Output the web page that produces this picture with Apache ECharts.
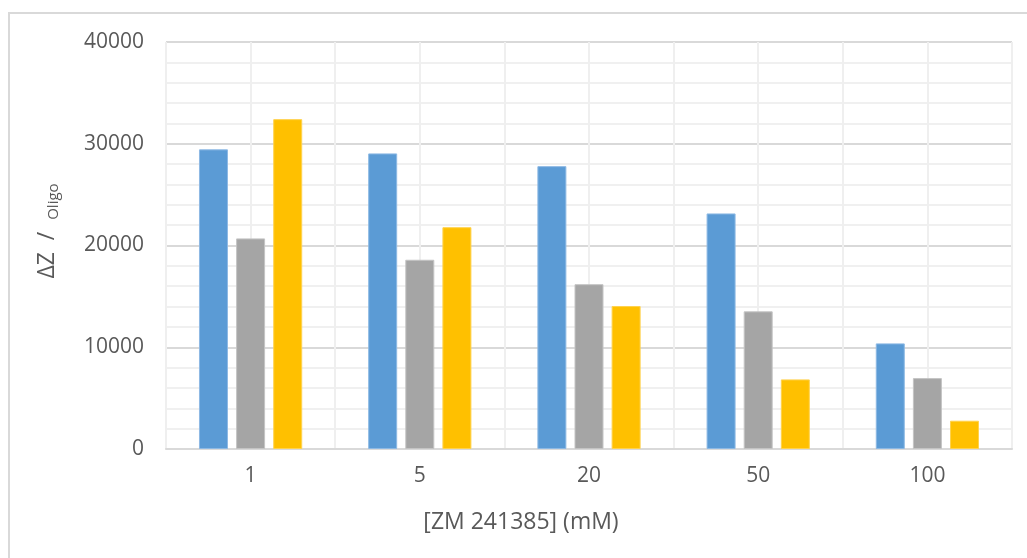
<!DOCTYPE html>
<html>
<head>
<meta charset="utf-8">
<script src="https://cdn.jsdelivr.net/npm/echarts@6/dist/echarts.min.js"></script>
<style>
html,body{margin:0;padding:0;background:#fff;}
#chart{width:1027px;height:558px;}
</style>
</head>
<body>
<div id="chart"></div>
<script>
const categories = ['1', '5', '20', '50', '100'];
const seriesBlue = [29450, 29050, 27800, 23150, 10380];
const seriesGray = [20700, 18600, 16200, 13530, 6970];
const seriesYellow = [32420, 21800, 14050, 6840, 2780];
const yTicks = [0, 10000, 20000, 30000, 40000];
const xTitle = '[ZM 241385] (mM)';
const yTitleMain = 'ΔZ  /  ';
const yTitleSub = 'Oligo';

const FONT = 'Open Sans';
const TXT = '#595959';

const chart = echarts.init(document.getElementById('chart'), null, {renderer: 'canvas'});
const barStyle = (c, b) => ({color: c, borderColor: b, borderWidth: 1});
chart.setOption({
  animation: false,
  backgroundColor: '#fff',
  grid: {left: 166, right: 15, top: 42, bottom: 109, containLabel: false},
  xAxis: [{
    type: 'category',
    data: categories,
    axisLine: {show: true, lineStyle: {color: '#d9d9d9', width: 2}},
    axisTick: {show: false},
    axisLabel: {color: TXT, fontFamily: FONT, fontSize: 21, margin: 17},
    splitLine: {show: false}
  }, {
    type: 'value',
    min: 0, max: 10, interval: 1,
    position: 'top',
    axisLine: {show: false}, axisTick: {show: false}, axisLabel: {show: false},
    splitLine: {show: true, lineStyle: {color: '#efefef', width: 2}}
  }],
  yAxis: {
    type: 'value',
    min: yTicks[0], max: yTicks[yTicks.length - 1], interval: 10000,
    axisLine: {show: false}, axisTick: {show: false},
    axisLabel: {color: TXT, fontFamily: FONT, fontSize: 21, margin: 22, formatter: v => String(v)},
    splitLine: {show: true, lineStyle: {color: '#d9d9d9', width: 2}},
    minorTick: {show: false, splitNumber: 5},
    minorSplitLine: {show: true, lineStyle: {color: '#f0f0f0', width: 2}}
  },
  series: [
    {type: 'bar', data: seriesBlue, barWidth: 29, barGap: '28%', itemStyle: barStyle('#5B9BD5', '#8db9e4'), z: 3},
    {type: 'bar', data: seriesGray, barWidth: 29, barGap: '28%', itemStyle: barStyle('#A5A5A5', '#c4c4c4'), z: 3},
    {type: 'bar', data: seriesYellow, barWidth: 29, barGap: '28%', itemStyle: barStyle('#FFC000', '#ffd24d'), z: 3}
  ],
  graphic: [
    {type: 'rect', shape: {x: 9, y: 13, width: 1030, height: 560}, style: {fill: 'none', stroke: '#d9d9d9', lineWidth: 2}, silent: true, z: -10},
    {type: 'text', x: 521, y: 522, style: {text: xTitle, fill: TXT, font: '23px "Open Sans"', textAlign: 'center', textVerticalAlign: 'middle'}},
    {type: 'text', x: 47, y: 231, rotation: Math.PI / 2,
      style: {
        text: '{a|' + yTitleMain + '}{s|' + yTitleSub + '}',
        textAlign: 'center', textVerticalAlign: 'middle',
        rich: {
          a: {fontFamily: FONT, fontSize: 23, fill: TXT, color: TXT},
          s: {fontFamily: FONT, fontSize: 15, fill: TXT, color: TXT, padding: [13, 0, 0, 0]}
        }
      }}
  ]
});
</script>
</body>
</html>
